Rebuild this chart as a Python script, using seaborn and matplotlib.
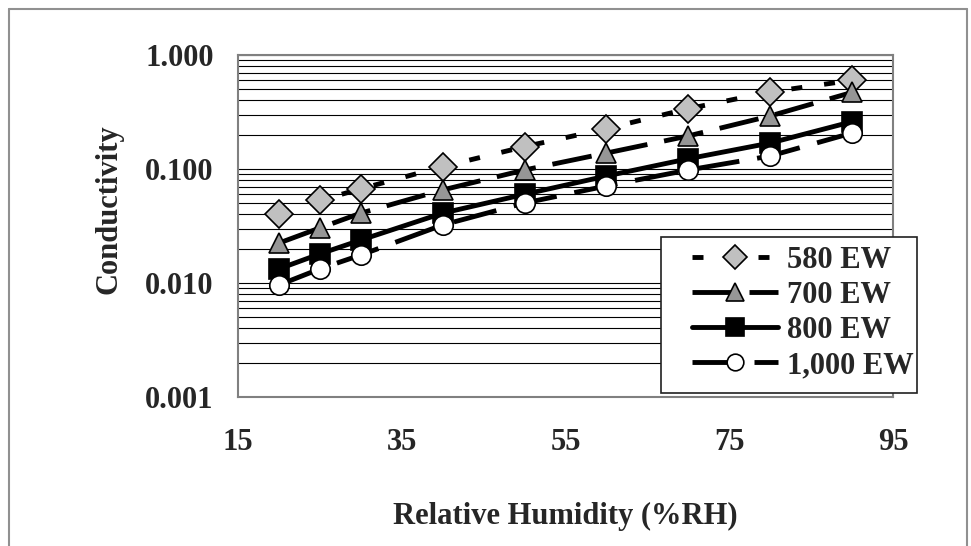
import numpy as np
import pandas as pd
import matplotlib
matplotlib.use("Agg")
import matplotlib.pyplot as plt
from matplotlib.lines import Line2D
from matplotlib.patches import Rectangle
import seaborn as sns

# data
humidity = [20, 25, 30, 40, 50, 60, 70, 80, 90]
ew_580 = [0.040, 0.053, 0.067, 0.105, 0.157, 0.226, 0.338, 0.474, 0.600]
ew_700 = [0.0224, 0.0304, 0.041, 0.0655, 0.098, 0.138, 0.195, 0.292, 0.470]
ew_800 = [0.0133, 0.0180, 0.0238, 0.041, 0.060, 0.0868, 0.123, 0.169, 0.260]
ew_1000 = [0.0096, 0.0133, 0.0176, 0.0323, 0.0503, 0.071, 0.098, 0.130, 0.207]
series_names = ["580 EW", "700 EW", "800 EW", "1,000 EW"]

df = pd.DataFrame({
    "rh": humidity * 4,
    "cond": ew_580 + ew_700 + ew_800 + ew_1000,
    "series": np.repeat(series_names, len(humidity)),
})

sns.set_style("white")
plt.rcParams["font.family"] = ["Liberation Serif", "DejaVu Serif"]
plt.rcParams["font.weight"] = "bold"

lw = 3.5
fs = 22
# marker, fill colour, marker size, dash pattern in px
styles = {
    "580 EW": ("D", "#c0c0c0", 14, (11, 22)),
    "700 EW": ("^", "#969696", 15, (40, 17)),
    "800 EW": ("s", "black", 15, None),
    "1,000 EW": ("o", "white", 14, (44, 18)),
}

fig = plt.figure(figsize=(9.71, 5.46), dpi=100)
ax = fig.add_axes([238 / 971, 1 - 397 / 546, 655 / 971, 342 / 546])

px2pt = 72 / 100
for name in series_names:
    mk, fc, ms, dash = styles[name]
    if dash is None:
        ls = "-"
    else:
        ls = (0, (dash[0] * px2pt / lw, dash[1] * px2pt / lw))
    sns.lineplot(
        data=df[df["series"] == name], x="rh", y="cond", ax=ax,
        color="black", linewidth=lw, linestyle=ls, label=name,
        marker=mk, markersize=ms, markerfacecolor=fc,
        markeredgecolor="black", markeredgewidth=1.2,
        dash_capstyle="butt", solid_capstyle="round", errorbar=None,
    )

ax.set_yscale("log")
ax.set_ylim(0.001, 1.0)
ax.set_xlim(15, 95)
ax.set_xticks([15, 35, 55, 75, 95])
ax.set_yticks([0.001, 0.01, 0.1, 1.0])
ax.set_yticklabels(["0.001", "0.010", "0.100", "1.000"])
ax.yaxis.set_minor_formatter(matplotlib.ticker.NullFormatter())

# horizontal grid at every log tick
ax.grid(True, which="both", axis="y", color="black", linewidth=0.8)
ax.grid(False, axis="x")
ax.set_axisbelow(True)

for sp in ax.spines.values():
    sp.set_color("#808080")
    sp.set_linewidth(1.5)
    sp.set_visible(True)

ax.tick_params(axis="both", which="major", direction="out", length=6.5,
               width=1.2, color="#808080", labelsize=fs, pad=11)
ax.tick_params(axis="y", which="minor", length=0)
ax.tick_params(axis="x", pad=16)

ax.set_xlabel("Relative Humidity (%RH)", fontsize=fs, fontweight="bold")
ax.set_ylabel("Conductivity", fontsize=fs, fontweight="bold")
ax.xaxis.set_label_coords(0.5, -0.35)
ax.yaxis.set_label_coords(-0.197, 0.55)
ax.xaxis.label.set_va("center")
ax.yaxis.label.set_va("center")

# legend without its own frame; the box is drawn separately like Excel's
leg = ax.legend(loc="center left", bbox_to_anchor=(692 / 971, 1 - 313 / 546),
                bbox_transform=fig.transFigure, fontsize=fs, frameon=False,
                handlelength=2.8, handletextpad=0.3, labelspacing=0.2,
                borderpad=0, borderaxespad=0)
for h, name in zip(leg.legend_handles, series_names):
    h.set_markersize(styles[name][2] - 2)
leg.set_zorder(6)
ax.add_patch(Rectangle((661 / 971, 1 - 393 / 546), 256 / 971, 156 / 546,
                       transform=fig.transFigure, facecolor="white",
                       edgecolor="#202020", linewidth=1.2, zorder=5,
                       clip_on=False))

# grey chart border like the original
for x0, y0, x1, y1 in [(9, 9, 9, 546), (9, 9, 967, 9), (967, 9, 967, 546)]:
    fig.add_artist(Line2D([x0 / 971, x1 / 971], [1 - y0 / 546, 1 - y1 / 546],
                          transform=fig.transFigure, color="#909090", linewidth=1.5))

fig.savefig("out.png", dpi=100)
